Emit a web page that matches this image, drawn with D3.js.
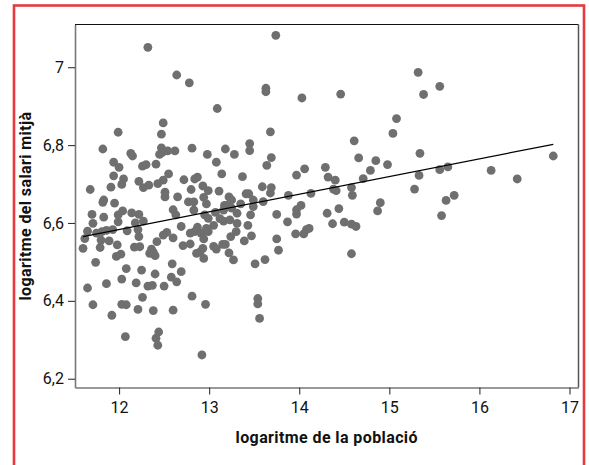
<!DOCTYPE html>
<html>
<head>
<meta charset="utf-8">
<script src="https://cdn.jsdelivr.net/npm/d3@7"></script>
<style>
  body { margin: 0; background: #fff; }
  svg { display: block; }
</style>
</head>
<body>
<div id="chart"></div>
<script>
// log of population (x) and log of mean salary (y), one entry per town
var popLog = [
  12.32,12.64,12.78,13.09,12.49,12.47,11.99,11.82,12.47,12.13,
  12.15,12.45,12.48,12.54,12.62,12.81,13.18,13.28,13.45,13.45,
  12.98,13.08,11.94,12.00,12.26,12.30,12.41,11.94,12.05,12.03,
  12.55,12.49,12.43,12.22,12.27,12.33,12.72,12.84,12.87,13.14,
  13.37,11.68,11.91,12.51,12.51,12.93,12.99,12.80,13.11,13.41,
  13.44,13.59,11.82,11.83,11.95,12.65,12.77,12.83,12.94,12.97,
  13.22,13.25,13.17,13.21,13.35,13.49,13.49,11.70,11.83,12.04,
  11.99,12.14,12.22,12.60,12.63,12.83,12.95,13.07,13.16,13.25,
  13.31,13.46,11.71,11.99,12.18,12.27,12.69,12.99,13.05,13.12,
  13.16,13.23,13.31,13.43,11.65,11.62,11.60,11.75,11.81,11.86,
  11.93,11.80,11.79,11.89,11.98,12.09,12.21,12.22,12.42,12.53,
  12.49,12.60,12.79,12.84,12.87,12.91,12.94,12.93,12.90,12.86,
  12.99,12.97,12.71,12.79,12.17,12.23,12.36,12.38,12.40,12.34,
  13.05,13.08,13.15,13.18,13.24,13.30,13.39,13.47,13.22,13.27,
  12.94,13.51,13.62,11.97,12.02,11.74,12.08,12.25,12.59,12.40,
  12.69,12.58,12.64,12.03,12.19,11.86,11.65,12.32,12.37,12.50,
  12.81,12.26,11.71,12.03,12.08,12.96,13.54,13.54,13.56,11.92,
  12.21,12.38,12.60,12.44,12.41,12.43,12.07,12.92,13.74,13.63,
  13.63,14.03,14.46,15.32,15.56,15.38,15.08,15.04,13.68,14.61,
  15.34,13.69,13.64,14.66,14.85,14.98,14.79,14.29,14.06,13.97,
  14.32,14.40,14.71,15.33,15.56,15.65,15.28,13.69,13.68,13.88,
  14.13,14.38,14.41,14.58,14.59,13.60,14.02,13.97,13.97,13.75,
  14.44,14.31,14.90,14.87,15.72,15.63,15.58,13.87,14.37,14.50,
  14.58,14.63,13.96,14.05,14.08,14.11,13.75,13.77,14.58,16.82,
  16.13,16.42
];
var salLog = [
  7.051,6.980,6.960,6.894,6.857,6.828,6.833,6.790,6.793,6.779,
  6.772,6.776,6.781,6.785,6.785,6.792,6.790,6.776,6.804,6.786,
  6.776,6.756,6.756,6.743,6.746,6.750,6.751,6.721,6.713,6.699,
  6.726,6.710,6.701,6.707,6.691,6.697,6.711,6.713,6.718,6.726,
  6.719,6.686,6.692,6.679,6.667,6.695,6.683,6.686,6.682,6.675,
  6.675,6.693,6.653,6.659,6.651,6.667,6.654,6.654,6.666,6.649,
  6.667,6.659,6.645,6.646,6.649,6.659,6.642,6.622,6.615,6.631,
  6.621,6.626,6.622,6.634,6.621,6.633,6.621,6.627,6.633,6.638,
  6.625,6.621,6.599,6.603,6.600,6.605,6.591,6.612,6.594,6.611,
  6.605,6.608,6.599,6.594,6.579,6.560,6.535,6.574,6.578,6.581,
  6.583,6.556,6.537,6.554,6.544,6.580,6.583,6.565,6.552,6.576,
  6.569,6.562,6.574,6.578,6.589,6.574,6.559,6.535,6.526,6.522,
  6.578,6.586,6.542,6.546,6.538,6.539,6.533,6.525,6.516,6.522,
  6.540,6.533,6.545,6.545,6.565,6.578,6.554,6.567,6.523,6.505,
  6.509,6.495,6.506,6.514,6.520,6.499,6.483,6.479,6.495,6.469,
  6.475,6.461,6.449,6.456,6.446,6.444,6.433,6.438,6.440,6.438,
  6.412,6.409,6.390,6.391,6.390,6.391,6.406,6.392,6.355,6.363,
  6.378,6.375,6.376,6.320,6.304,6.286,6.308,6.261,7.082,6.946,
  6.937,6.921,6.931,6.987,6.951,6.930,6.868,6.830,6.834,6.811,
  6.779,6.768,6.748,6.767,6.760,6.750,6.735,6.743,6.739,6.723,
  6.718,6.710,6.714,6.722,6.737,6.744,6.687,6.691,6.677,6.671,
  6.676,6.687,6.683,6.691,6.671,6.655,6.645,6.634,6.623,6.622,
  6.637,6.625,6.652,6.631,6.671,6.658,6.619,6.603,6.598,6.602,
  6.597,6.591,6.572,6.572,6.583,6.586,6.559,6.530,6.521,6.772,
  6.735,6.713
];

// fitted line end points, as drawn
var fitX = [11.60, 16.82];
var fitY = [6.565, 6.802];

var xTicks = [12, 13, 14, 15, 16, 17];
var yTicks = [6.2, 6.4, 6.6, 6.8, 7];

var xTitle = "logaritme de la població";
var yTitle = "logaritme del salari mitjà";

var W = 589, H = 465;
var margin = {top: 24.5, right: 10.5, bottom: 77.5, left: 75};
var innerW = W - margin.left - margin.right;
var innerH = H - margin.top - margin.bottom;

var svg = d3.select("#chart").append("svg")
    .attr("width", W)
    .attr("height", H);

//red frame round the whole figure
svg.append("rect")
    .attr("x", 14)
    .attr("y", 5.5)
    .attr("width", 570)
    .attr("height", 520)
    .attr("fill", "none")
    .attr("stroke", "#e53a40")
    .attr("stroke-width", 2.6);

var x = d3.scaleLinear().domain([11.511, 17.1]).range([0, innerW]);
var y = d3.scaleLinear().domain([6.1775, 7.1097]).range([innerH, 0]);

var g = svg.append("g")
    .attr("transform", "translate(" + margin.left + "," + margin.top + ")");

var comma = function(d) { return String(d).replace(".", ","); };

//top and right edges of the box
g.append("line")
    .attr("x1", 0).attr("x2", innerW).attr("y1", 0).attr("y2", 0)
    .attr("stroke", "#111").attr("stroke-width", 1.2);
g.append("line")
    .attr("x1", innerW).attr("x2", innerW).attr("y1", 0).attr("y2", innerH)
    .attr("stroke", "#555").attr("stroke-width", 1.5);

//axes
var xAxis = d3.axisBottom(x)
    .tickValues(xTicks)
    .tickFormat(comma)
    .tickSize(7)
    .tickSizeOuter(0)
    .tickPadding(7);
var gx = g.append("g")
    .attr("transform", "translate(0," + innerH + ")")
    .call(xAxis);

var yAxis = d3.axisLeft(y)
    .tickValues(yTicks)
    .tickFormat(comma)
    .tickSize(7)
    .tickSizeOuter(0)
    .tickPadding(4);
var gy = g.append("g").call(yAxis);

[gx, gy].forEach(function(a) {
    a.select(".domain").attr("stroke", "#777").attr("stroke-width", 1.6);
    a.selectAll(".tick line").attr("stroke", "#333").attr("stroke-width", 1.1);
    a.selectAll(".tick text")
        .attr("fill", "#111")
        .style("font-family", "Roboto, 'DejaVu Sans', sans-serif")
        .style("font-size", "16px");
});

//points
g.append("g").selectAll("circle")
    .data(popLog)
    .enter().append("circle")
    .attr("cx", function(d) { return x(d); })
    .attr("cy", function(d, i) { return y(salLog[i]); })
    .attr("r", 4.4)
    .attr("fill", "#6f6f6f");

//fitted line
var line = d3.line()
    .x(function(d) { return x(d); })
    .y(function(d, i) { return y(fitY[i]); });
g.append("path")
    .attr("d", line(fitX))
    .attr("fill", "none")
    .attr("stroke", "#000")
    .attr("stroke-width", 1.3);

//axis titles
svg.append("text")
    .attr("x", margin.left + innerW / 2)
    .attr("y", 443)
    .attr("text-anchor", "middle")
    .style("font-family", "Roboto, 'DejaVu Sans', sans-serif")
    .style("font-weight", "bold")
    .style("font-size", "16px")
    .style("letter-spacing", "0.4px")
    .attr("fill", "#111")
    .text(xTitle);

svg.append("text")
    .attr("transform", "translate(31," + (margin.top + innerH / 2) + ") rotate(-90)")
    .attr("text-anchor", "middle")
    .style("font-family", "Roboto, 'DejaVu Sans', sans-serif")
    .style("font-weight", "bold")
    .style("font-size", "16px")
    .style("letter-spacing", "0.4px")
    .attr("fill", "#111")
    .text(yTitle);
</script>
</body>
</html>
